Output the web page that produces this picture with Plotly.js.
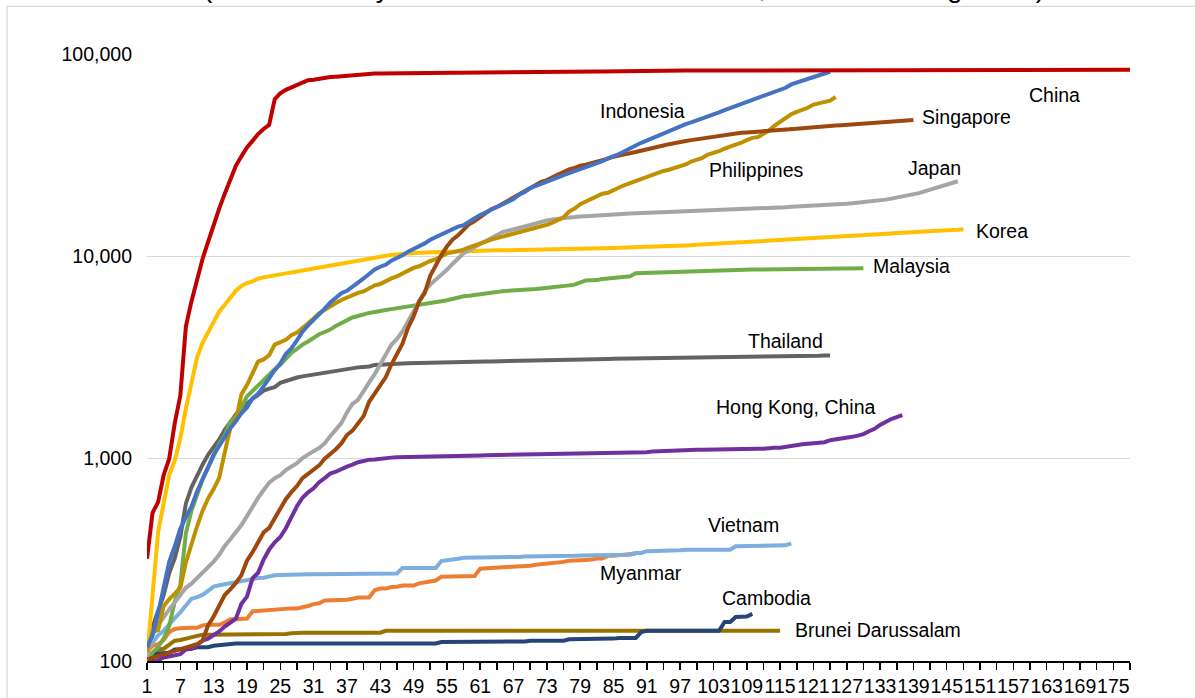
<!DOCTYPE html>
<html><head><meta charset="utf-8">
<script src="https://cdn.plot.ly/plotly-3.0.1.min.js"></script>
<style>html,body{margin:0;padding:0;background:#fff;}#chart{width:1195px;height:698px;}</style>
</head><body><div id="chart"></div>
<script>
// Cumulative confirmed cases, by day since the 100th case (day 1 = first day with >=100 cases)
const china = [320,540,610,830,1000,1500,2050,4500,5990,7720,
9700,11800,14400,17200,20400,24300,28000,31200,34500,37200,
40200,42600,44700,59800,63900,66500,68500,70500,72400,74200,
74600,75500,76300,76900,77200,77700,78100,78500,78800,79300,
79800,80000,80150,80270,80410,80550,80650,80700,80740,80750,
80780,80790,80810,80820,80840,80860,80880,80890,80930,80970,
81010,81050,81090,81170,81220,81290,81340,81390,81440,81470,
81520,81550,81590,81620,81640,81670,81710,81740,81800,81870,
81910,81950,82050,82160,82250,82300,82340,82690,82720,82740,
82750,82760,82790,82800,82800,82820,82830,82830,82840,82860,
82860,82870,
82877,82880,82881,82883,82885,82886,82887,82887,82901,82918,
82919,82926,82929,82933,82941,82947,82954,82960,82965,82967,
82971,82974,82985,82992,82993,82995,82995,83001,83017,83017,
83021,83022,83027,83030,83036,83040,83043,83046,83057,83064,
83075,83132,83181,83221,83265,83293,83325,83352,83378,83396,
83418,83430,83449,83462,83483,83500,83512,83531,83534,83537,
83542,83545,83553,83557,83565,83572,83581,83585,83587,83594,
83602,83605,83611,83612,83622,83644];

const indonesia = [117,134,172,227,309,369,450,514,579,686,790,893,1046,1155,1285,1414,1528,
1677,1790,1986,2092,2273,2491,2738,2956,3293,3512,3842,4241,4557,4839,5136,5516,5923,6248,6575,6760,
7135,7418,7775,8211,8607,8882,9096,9511,9771,10118,
10551,10843,11192,11587,12071,12438,12776,13112,13645,14032,14265,14749,15438,16006,16496,17025,17514,18010,18496,19189,
20162,20796,21745,22271,22750,23165,23851,24538,25216,25773,26473,
26940,27549,28233,28818,29521,30514,31186,32033,33076,34316,35295,36406,37420,38277,39294,40400,41431,42762,43803,45029,
45891,46845,47896,49009,50187,51427,52812,54010,55092,56385,
57770,59394,60695,62142,63749,64958,66226,68079,70736,72347,74018,75699,76981,78572,80094,81668];

const singapore = [102,
104,106,108,110,112,114,117,119,121,126,150,166,187,212,226,243,266,313,345,385,432,455,509,558,631,683,732,802,844,879,926,
1000,1049,1114,1189,1309,1375,1481,1623,1910,2108,2299,2532,2918,3252,3699,4427,5050,5992,6588,8014,9125,10141,11178,12075,12693,13624,14423,14951,15641,16169,
17101,17548,18205,18778,19410,20198,20939,21707,22460,23336,23822,24671,25346,26098,26891,27356,28038,28343,28794,29364,29812,30426,31068,31616,31960,32343,32876,33249,33860,34366,34884,
35292,35836,36405,36922,37183,37527,37910,38296,38514,38965,39387,39850,40197,40604,40818,40969,41216,41473,41615,41833,42095,42313,42432,42623,42736,42955,43246,43459,43661,43907,
44122,44310,44479,44664,44800,44983,45140,45298,45423,45613,45783,45961,46283,46630,46878,47126];

const philippines = [111,140,142,187,202,217,230,307,380,462,552,636,707,803,1075,1418,1546,2084,
2311,2633,3018,3094,3246,3660,3764,3870,4076,4195,4428,4648,4932,5223,5453,5660,5878,6087,6259,6459,6599,6710,6981,7192,7294,7579,7777,7958,8212,8488,
8772,8928,9223,9485,9684,10004,10343,10463,10610,10794,11086,11350,11618,11876,12091,12305,12513,12718,12942,13221,13434,13597,13777,14035,14319,14669,15049,15588,16634,17224,18086,
18638,18997,19748,20382,20626,21340,21895,22474,22992,23732,24175,24787,25392,25930,26420,26781,27238,27799,28459,29400,30052,30682,31825,32295,33069,34073,34803,35455,36438,37514,
38511,38805,40336,41830,44254,46333,47873,50359,51754,52914,54222,56259,57006,57545,58850,61266];

const japan = [105,135,150,165,180,195,212,230,241,
256,274,293,310,335,370,400,430,470,520,580,640,700,760,800,829,878,914,950,1007,1054,1089,1128,1193,1291,1387,1499,1693,1866,1953,2178,
2381,2617,2935,3271,3654,3906,4257,4768,5347,5977,6720,7255,7645,8100,8582,9167,9795,10361,10751,11135,11512,11950,12388,12829,13182,13385,13576,13852,14088,14281,
14544,14839,15057,15231,15354,15463,15547,15628,15747,15798,15874,15968,16023,16079,16120,16203,16237,16285,16305,16367,16424,16513,16536,16550,16581,16623,16651,16683,16719,16804,16851,
16884,16930,16986,17018,17064,17103,17142,17174,17210,17251,17292,17332,17382,17429,17502,17587,17628,17668,17740,17799,17864,17916,17968,18024,18110,18197,18297,18390,18476,18593,
18723,18874,19068,19282,19522,19775,19981,20174,20529,20959,21365,21772,22185,22508,22890,23510];

const korea = [104,204,433,602,833,977,1261,1766,2337,3150,
3736,4212,4812,5328,5766,6284,6767,7134,7382,7513,7755,7869,7979,8086,8162,8236,8320,8413,8565,8652,8799,8897,8961,9037,9137,9241,9332,9478,9583,9661,9786,
9887,9976,10062,10156,10237,10284,10331,10384,10423,10450,10480,10512,10537,10564,10591,10613,10635,10653,10661,10674,10683,10694,10702,10708,10718,10728,10738,10752,10761,10765,
10774,10780,10793,10801,10804,10806,10810,10822,10840,10874,10909,10936,10962,10991,11018,11037,11050,11065,11078,11110,11122,11142,11165,11190,11206,11225,11265,11344,11402,11441,11468,
11503,11541,11590,11629,11668,11719,11776,11814,11852,11902,11947,12003,12051,12085,12121,12155,12198,12257,12306,12373,12421,12438,12484,12535,12563,12602,12653,12715,12757,12800,
12850,12904,12967,13030,13091,13137,13181,13244,13293,13338,13373,13417,13479,13512,13551,13612];

const malaysia = [100,110,117,129,149,197,238,428,553,673,790,900,1030,1183,1306,1518,1624,1796,2031,2161,2320,2470,2626,2766,
2908,3116,3333,3483,3662,3793,3963,4119,4228,4346,4530,4683,4817,4987,5072,5182,5251,5305,5389,5425,5482,5532,5603,5691,5742,5780,5820,5851,5945,6002,
6071,6176,6298,6353,6383,6428,6467,6535,6589,6656,6726,6742,6779,6819,6855,6872,6894,6941,6978,7009,7059,7137,7185,7245,7417,7604,7619,7629,7732,7762,7819,
7857,7877,7970,8247,8266,8303,8322,8329,8336,8338,8369,8402,8445,8453,8494,8505,8515,8529,8535,8556,8572,8587,8590,8596,8600,8606,8616,8634,8637,8639,
8640,8643,8648,8658,8663,8668,8674,8677,8683,8696,8704,8718,8725,8729,8734];

const thailand = [114,147,177,212,272,322,411,599,721,827,934,1045,1136,1245,1388,1524,1651,
1771,1875,1978,2067,2169,2220,2258,2369,2423,2473,2518,2551,2579,2613,2643,2672,2700,2733,2765,2792,2811,2826,2839,2854,2907,2922,2931,2938,2947,2954,
2960,2966,2969,2987,2988,2989,2992,3000,3004,3009,3015,3017,3017,3018,3025,3025,3028,3031,3033,3034,3037,3037,3040,3042,3042,3045,3054,3065,3076,3077,3081,
3082,3083,3084,3102,3104,3112,3119,3121,3125,3125,3125,3129,3134,3135,3135,3135,3141,3146,3148,3149,3151,3151,3156,3157,3158,3162,3162,3169,3171,3171,
3173,3173,3179,3185,3190,3195,3195,3202,3202,3216,3217,3220,3227,3227,3236,3239];

const hongKong = [100,100,101,104,105,107,108,114,115,120,126,129,134,140,148,155,162,192,208,256,273,317,356,386,410,453,518,582,641,682,714,
765,802,845,862,890,914,935,960,973,989,990,1000,1010,1012,1017,1019,1021,1024,1026,1026,1029,1031,1034,1036,1037,1037,1037,1037,1038,1038,
1039,1040,1040,1041,1041,1044,1045,1045,1047,1047,1047,1050,1051,1053,1055,1055,1056,1056,1062,1063,1064,1065,1065,1066,1066,1066,1067,1067,1068,1077,1084,
1088,1093,1094,1094,1104,1105,1106,1107,1108,1108,1108,1109,1110,1110,1110,1112,1113,1118,1120,1121,1131,1132,1133,1146,1161,1177,1179,1186,1192,1197,
1206,1234,1243,1259,1268,1282,1300,1323,1366,1404,1469,1522,1570,1605,1640];

const vietnam = [113,123,134,141,153,163,174,188,203,207,
212,222,233,237,240,241,245,249,251,255,257,258,262,265,266,267,268,268,268,268,268,268,268,268,270,270,270,270,270,270,
270,271,271,271,271,271,288,288,288,288,288,288,288,312,314,318,320,324,324,324,324,325,326,327,327,327,327,327,328,328,328,
328,328,328,328,328,329,331,332,332,332,333,333,334,334,334,335,335,342,342,349,349,349,349,352,352,353,355,355,355,355,
355,355,355,355,355,369,369,369,369,370,370,372,372,373,373,381];

const myanmar = [111,119,121,127,139,144,145,146,146,146,150,151,
151,151,155,161,161,161,162,176,177,178,180,180,181,181,182,182,184,187,191,193,199,199,201,201,201,203,206,206,206,224,228,
228,232,233,236,236,236,242,244,246,250,261,261,261,262,262,262,263,286,287,289,290,291,292,293,293,293,296,299,301,303,
304,304,309,313,313,316,316,317,321,321,331,331,334,336,339,340];

const cambodia = [103,107,109,
109,110,114,114,115,115,117,117,117,119,120,120,122,122,122,122,122,122,122,122,122,122,122,122,122,122,122,122,122,122,
122,122,122,122,122,122,122,122,122,122,122,122,122,122,122,122,122,122,122,122,124,124,124,124,124,124,124,124,124,124,124,
125,125,125,125,125,126,126,126,126,126,126,126,128,128,128,128,128,129,129,129,129,130,130,130,130,139,141,141,141,141,
141,141,141,141,141,141,141,141,141,141,156,156,165,166,166,171];

const brunei = [104,109,114,115,120,126,127,129,
131,133,135,135,135,135,135,135,135,136,136,136,136,136,136,136,136,136,137,138,138,138,138,138,138,138,138,138,138,138,
138,138,138,138,138,141,141,141,141,141,141,141,141,141,141,141,141,141,141,141,141,141,141,141,141,141,141,141,141,141,141,
141,141,141,141,141,141,141,141,141,141,141,141,141,141,141,141,141,141,141,141,141,141,141,141,141,141,141,141,141,141,
141,141,141,141,141,141,141,141,141,141,141,141,141,141,141,141];

const yTickVals = [100, 1000, 10000, 100000];
const yTickText = ['100', '1,000', '10,000', '100,000'];
const chartTitle = '(Total cases by time since the first 100 cases, shown on a log scale)';

// name, values, colour, label offset from the series' last point [dx right, dy down] in px
const seriesList = [
  {name: 'Brunei Darussalam', values: brunei,     color: '#997300', off: [13, -1]},
  {name: 'Cambodia',          values: cambodia,   color: '#264478', off: [-32, -16]},
  {name: 'Myanmar',           values: myanmar,    color: '#ED7D31', off: [-38, 20]},
  {name: 'Vietnam',           values: vietnam,    color: '#7CAFDD', off: [-85, -18]},
  {name: 'Hong Kong, China',  values: hongKong,   color: '#7030A0', off: [-188, -8]},
  {name: 'Thailand',          values: thailand,   color: '#636363', off: [-84, -14]},
  {name: 'Malaysia',          values: malaysia,   color: '#70AD47', off: [8, -2]},
  {name: 'Korea',             values: korea,      color: '#FFC000', off: [11, 2]},
  {name: 'Japan',             values: japan,      color: '#A5A5A5', off: [-52, -13]},
  {name: 'Philippines',       values: philippines,color: '#BF9000', off: [-129, 73]},
  {name: 'Singapore',         values: singapore,  color: '#9E480E', off: [7, -3]},
  {name: 'Indonesia',         values: indonesia,  color: '#4472C4', off: [-232, 39]},
  {name: 'China',             values: china,      color: '#C00000', off: [-103, 25]}
];

const FONT = 'Arial, "Liberation Sans", sans-serif';

const traces = seriesList.map(s => ({
  type: 'scatter', mode: 'lines', name: s.name,
  x: s.values.map((v, i) => i + 1),
  y: s.values,
  line: {color: s.color, width: 4},
  hoverinfo: 'skip'
}));

const annotations = seriesList.map(s => ({
  xref: 'x', yref: 'y',
  x: s.values.length,
  y: Math.log10(s.values[s.values.length - 1]),
  xanchor: 'left', yanchor: 'middle',
  xshift: s.off[0], yshift: -s.off[1],
  text: s.name, showarrow: false,
  font: {family: FONT, size: 19.5, color: '#000'}
}));

// chart title: in the reference it sits above the top edge, only its lowest strokes show
annotations.push({
  xref: 'paper', yref: 'paper', x: 0.4853, y: 1.110,
  xanchor: 'center', yanchor: 'middle', showarrow: false,
  text: chartTitle, font: {family: FONT, size: 28, color: '#000'}
});

const layout = {
  width: 1195, height: 698,
  margin: {l: 147, r: 65, t: 54, b: 37},
  paper_bgcolor: '#fff', plot_bgcolor: '#fff',
  showlegend: false,
  font: {family: FONT, size: 19.5, color: '#000'},
  xaxis: {
    type: 'linear', range: [1, 178], tick0: 1, dtick: 6,
    ticks: 'outside', ticklen: 7, tickwidth: 1.5, tickcolor: '#000',
    showline: true, linecolor: '#000', linewidth: 1.5,
    showgrid: false, zeroline: false, tickangle: 0,
    tickfont: {family: FONT, size: 19.5, color: '#000'},
    minor: {tick0: 1, dtick: 3, ticks: 'outside', ticklen: 7, tickwidth: 1.5, tickcolor: '#000', showgrid: false}
  },
  yaxis: {
    type: 'log', range: [2, 5],
    tickmode: 'array', tickvals: yTickVals, ticktext: yTickText,
    showgrid: true, gridcolor: '#d9d9d9', gridwidth: 1.5,
    showline: false, zeroline: false, ticks: '',
    ticklabelstandoff: 14,
    tickfont: {family: FONT, size: 19.5, color: '#000'}
  },
  shapes: [{
    type: 'rect', xref: 'paper', yref: 'paper', layer: 'below',
    x0: -0.1424, x1: 1.0712, y0: -0.0725, y1: 1.0783,
    line: {color: '#d9d9d9', width: 1.3}, fillcolor: 'rgba(0,0,0,0)'
  }],
  annotations: annotations
};

Plotly.newPlot('chart', traces, layout, {staticPlot: true, displayModeBar: false});
</script></body></html>
